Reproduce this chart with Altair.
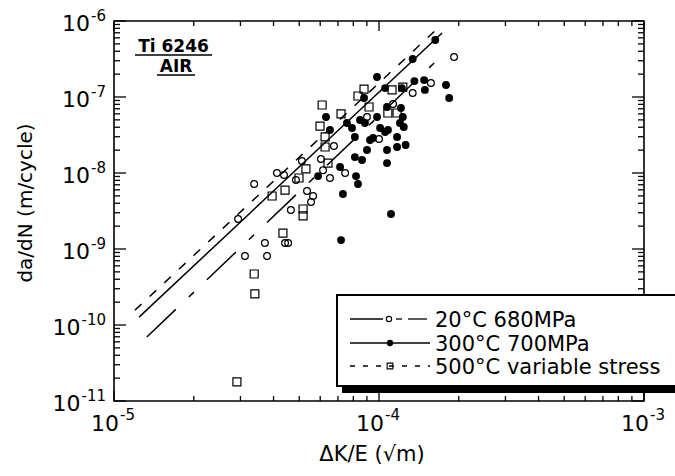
import altair as alt
import pandas as pd

# ---------------- data ----------------
# 20 C, 680 MPa (open circles)
c20_x = [2.94e-5, 3.38e-5, 4.12e-5, 4.38e-5, 4.86e-5, 5.12e-5, 6.04e-5, 6.53e-5, 6.15e-5, 6.76e-5,
         5.35e-5, 5.64e-5, 5.54e-5, 4.65e-5, 3.12e-5, 3.71e-5, 3.78e-5, 4.42e-5, 4.54e-5, 7.45e-5,
         9.01e-5, 1.0e-4, 1.13e-4, 1.34e-4, 1.57e-4, 1.92e-4]
c20_y = [2.48e-9, 7.17e-9, 1.0e-8, 9.4e-9, 8.1e-9, 1.44e-8, 1.53e-8, 8.6e-9, 1.09e-8, 2.27e-8,
         5.79e-9, 4.98e-9, 4.15e-9, 3.26e-9, 8.09e-10, 1.20e-9, 8.09e-10, 1.20e-9, 1.20e-9, 1.0e-8,
         5.46e-8, 2.80e-8, 8.09e-8, 1.13e-7, 1.53e-7, 3.36e-7]

# 300 C, 700 MPa (filled circles)
c300_x = [7.19e-5, 1.11e-4, 7.31e-5, 8.33e-5, 8.19e-5, 7.13e-5, 5.89e-5, 6.31e-5, 6.53e-5, 7.57e-5,
          7.91e-5, 8.48e-5, 8.85e-5, 9.83e-5, 9.83e-5, 1.054e-4, 8.78e-5, 1.34e-4, 1.63e-4, 1.36e-4,
          1.48e-4, 1.49e-4, 1.79e-4, 1.84e-4, 1.22e-4, 1.21e-4, 1.23e-4, 1.24e-4, 1.20e-4, 1.01e-4,
          1.054e-4, 1.081e-4, 8.11e-5, 9.25e-5, 9.49e-5, 1.17e-4, 1.26e-4, 1.17e-4, 9.01e-5, 1.072e-4,
          8.11e-5, 8.63e-5, 1.072e-4, 1.072e-4]
c300_y = [1.31e-9, 2.89e-9, 5.30e-9, 7.17e-9, 9.1e-9, 1.20e-8, 9.1e-9, 5.46e-8, 3.68e-8, 4.55e-8,
          3.91e-8, 4.98e-8, 4.55e-8, 5.46e-8, 1.83e-7, 1.31e-7, 9.7e-8, 3.16e-7, 5.62e-7, 1.62e-7,
          1.67e-7, 1.24e-7, 1.44e-7, 9.7e-8, 1.31e-7, 7.17e-8, 5.46e-8, 4.03e-8, 4.55e-8, 3.91e-8,
          3.46e-8, 3.68e-8, 2.98e-8, 2.72e-8, 2.89e-8, 2.98e-8, 2.34e-8, 2.20e-8, 2.01e-8, 2.01e-8,
          1.62e-8, 1.48e-8, 1.35e-8, 7.39e-8]

# 500 C, variable stress (open squares)
c500_x = [2.91e-5, 3.38e-5, 3.40e-5, 4.34e-5, 3.95e-5, 4.42e-5, 5.17e-5, 5.17e-5, 5.30e-5, 4.99e-5,
          6.10e-5, 5.99e-5, 6.26e-5, 6.26e-5, 6.42e-5, 7.19e-5, 8.33e-5, 8.78e-5, 9.17e-5, 1.08e-4,
          1.17e-4, 1.12e-4, 1.23e-4]
c500_y = [1.78e-11, 4.69e-10, 2.56e-10, 1.62e-9, 4.98e-9, 5.97e-9, 3.36e-9, 2.72e-9, 1.13e-8, 8.6e-9,
          7.85e-8, 4.15e-8, 2.98e-8, 2.20e-8, 1.35e-8, 5.98e-8, 1.03e-7, 1.27e-7, 7.39e-8, 6.16e-8,
          6.16e-8, 1.24e-7, 1.35e-7]

# fitted lines (end points)
fit20_x = [1.33e-5, 1.77e-4]
fit20_y = [6.95e-11, 3.79e-7]
fit300_x = [1.243e-5, 1.73e-4]
fit300_y = [1.27e-10, 6.95e-7]
fit500_x = [1.20e-5, 1.64e-4]
fit500_y = [1.57e-10, 7.62e-7]

series_labels = ["20°C 680MPa", "300°C 700MPa", "500°C variable stress"]

# axes ticks / labels
major_x = [1e-5, 1e-4, 1e-3]
minor_x = [2e-5, 3e-5, 4e-5, 5e-5, 6e-5, 7e-5, 8e-5, 9e-5,
           2e-4, 3e-4, 4e-4, 5e-4, 6e-4, 7e-4, 8e-4, 9e-4]
major_y = [1e-6, 1e-7, 1e-8, 1e-9, 1e-10, 1e-11]
minor_y = [2e-7, 3e-7, 4e-7, 5e-7, 6e-7, 7e-7, 8e-7, 9e-7,
           2e-8, 3e-8, 4e-8, 5e-8, 6e-8, 7e-8, 8e-8, 9e-8,
           2e-9, 3e-9, 4e-9, 5e-9, 6e-9, 7e-9, 8e-9, 9e-9,
           2e-10, 3e-10, 4e-10, 5e-10, 6e-10, 7e-10, 8e-10, 9e-10,
           2e-11, 3e-11, 4e-11, 5e-11, 6e-11, 7e-11, 8e-11, 9e-11]
x_label_vals = [1e-5, 1e-4, 1e-3]
x_label_exps = ["-5", "-4", "-3"]
y_label_vals = [1e-6, 1e-7, 1e-8, 1e-9, 1e-10, 1e-11]
y_label_exps = ["-6", "-7", "-8", "-9", "-10", "-11"]
label_base = "10"

x_title = "ΔK/E (√m)"
y_title = "da/dN (m/cycle)"
note_1 = "Ti 6246"
note_2 = "AIR"

# ---------------- chart ----------------
W, H = 530, 380
FONT = "DejaVu Sans"
XS = alt.Scale(type="log", domain=[1e-5, 1e-3], nice=False)
YS = alt.Scale(type="log", domain=[1e-11, 1e-6], nice=False)
X = alt.X("x:Q", scale=XS, axis=None)
Y = alt.Y("y:Q", scale=YS, axis=None)
one = pd.DataFrame({"k": [0]})


def df(xs, ys):
    return pd.DataFrame({"x": xs, "y": ys})


layers = []

# fitted lines
layers.append(alt.Chart(df(fit20_x, fit20_y)).mark_line(
    color="black", strokeWidth=1.5, strokeDash=[40, 18, 7, 18]).encode(x=X, y=Y))
layers.append(alt.Chart(df(fit300_x, fit300_y)).mark_line(
    color="black", strokeWidth=1.5).encode(x=X, y=Y))
layers.append(alt.Chart(df(fit500_x, fit500_y)).mark_line(
    color="black", strokeWidth=1.5, strokeDash=[9, 11]).encode(x=X, y=Y))

# points
layers.append(alt.Chart(df(c500_x, c500_y)).mark_point(
    shape="square", filled=False, color="black", strokeWidth=1.2, size=64, opacity=1).encode(x=X, y=Y))
layers.append(alt.Chart(df(c20_x, c20_y)).mark_point(
    shape="circle", filled=False, color="black", strokeWidth=1.2, size=46, opacity=1).encode(x=X, y=Y))
layers.append(alt.Chart(df(c300_x, c300_y)).mark_circle(
    color="black", size=62, opacity=1).encode(x=X, y=Y))

# frame
layers.append(alt.Chart(one).mark_rect(filled=False, stroke="black", strokeWidth=1.6).encode(
    x=alt.value(0), x2=alt.value(W), y=alt.value(0), y2=alt.value(H)))

# ticks (inward, all four sides)
def xticks(vals, ln):
    d = pd.DataFrame({"v": vals})
    xe = alt.X("v:Q", scale=XS, axis=None)
    b = alt.Chart(d).mark_rule(color="black", strokeWidth=1.3).encode(
        x=xe, y=alt.value(H), y2=alt.value(H - ln))
    t = alt.Chart(d).mark_rule(color="black", strokeWidth=1.3).encode(
        x=xe, y=alt.value(0), y2=alt.value(ln))
    return [b, t]


def yticks(vals, ln):
    d = pd.DataFrame({"v": vals})
    ye = alt.Y("v:Q", scale=YS, axis=None)
    l = alt.Chart(d).mark_rule(color="black", strokeWidth=1.3).encode(
        y=ye, x=alt.value(0), x2=alt.value(ln))
    r = alt.Chart(d).mark_rule(color="black", strokeWidth=1.3).encode(
        y=ye, x=alt.value(W), x2=alt.value(W - ln))
    return [l, r]


layers += xticks(major_x, 10) + xticks(minor_x, 5)
layers += yticks(major_y, 12) + yticks(minor_y, 6)

# y tick labels: "10" + superscript exponent
ylab = pd.DataFrame({"v": y_label_vals, "e": y_label_exps})
for sub, base_x in [(ylab[ylab["e"].str.len() == 2], -24), (ylab[ylab["e"].str.len() == 3], -33.5)]:
    ye = alt.Y("v:Q", scale=YS, axis=None)
    layers.append(alt.Chart(sub).mark_text(
        text=label_base, align="right", baseline="alphabetic", dy=9.5,
        fontSize=22, font=FONT, color="black").encode(y=ye, x=alt.value(base_x)))
    layers.append(alt.Chart(sub).mark_text(
        align="right", baseline="alphabetic", dy=0, fontSize=15, font=FONT,
        color="black").encode(y=ye, x=alt.value(-8), text="e:N"))

# x tick labels
xlab = pd.DataFrame({"v": x_label_vals, "e": x_label_exps})
xe = alt.X("v:Q", scale=XS, axis=None)
layers.append(alt.Chart(xlab).mark_text(
    text=label_base, align="right", baseline="alphabetic", dx=5,
    fontSize=22, font=FONT, color="black").encode(x=xe, y=alt.value(410)))
layers.append(alt.Chart(xlab).mark_text(
    align="left", baseline="alphabetic", dx=6, fontSize=15, font=FONT,
    color="black").encode(x=xe, y=alt.value(399), text="e:N"))

# axis titles
layers.append(alt.Chart(one).mark_text(
    text=x_title, align="center", baseline="alphabetic", fontSize=21, font=FONT,
    color="black").encode(x=alt.value(258), y=alt.value(440)))
layers.append(alt.Chart(one).mark_text(
    text=y_title, align="center", baseline="alphabetic", angle=270, fontSize=20, font=FONT,
    color="black").encode(x=alt.value(-82), y=alt.value(182)))

# inset note
layers.append(alt.Chart(one).mark_text(
    text=note_1, align="center", baseline="alphabetic", fontSize=17, fontWeight="bold",
    font=FONT, color="black").encode(x=alt.value(59.5), y=alt.value(31)))
layers.append(alt.Chart(one).mark_rule(color="black", strokeWidth=1.5).encode(
    x=alt.value(21), x2=alt.value(98), y=alt.value(34)))
layers.append(alt.Chart(one).mark_text(
    text=note_2, align="center", baseline="alphabetic", fontSize=17, fontWeight="bold",
    font=FONT, color="black").encode(x=alt.value(62), y=alt.value(51)))
layers.append(alt.Chart(one).mark_rule(color="black", strokeWidth=1.5).encode(
    x=alt.value(43), x2=alt.value(81), y=alt.value(54)))

# legend box with shadow
layers.append(alt.Chart(one).mark_rect(fill="black").encode(
    x=alt.value(228), x2=alt.value(580), y=alt.value(280), y2=alt.value(372)))
layers.append(alt.Chart(one).mark_rect(fill="white", stroke="black", strokeWidth=2).encode(
    x=alt.value(223), x2=alt.value(575), y=alt.value(274), y2=alt.value(365)))

rows = [298, 322, 345]
# row 1: 20C
layers.append(alt.Chart(one).mark_rule(color="black", strokeWidth=1.3).encode(
    x=alt.value(236), x2=alt.value(269), y=alt.value(rows[0])))
layers.append(alt.Chart(one).mark_point(shape="circle", filled=False, color="black",
                                        size=28, strokeWidth=1.1, opacity=1).encode(
    x=alt.value(275), y=alt.value(rows[0])))
layers.append(alt.Chart(one).mark_rule(color="black", strokeWidth=1.3).encode(
    x=alt.value(282), x2=alt.value(288), y=alt.value(rows[0])))
layers.append(alt.Chart(one).mark_rule(color="black", strokeWidth=1.3).encode(
    x=alt.value(294), x2=alt.value(313), y=alt.value(rows[0])))
# row 2: 300C
layers.append(alt.Chart(one).mark_rule(color="black", strokeWidth=1.3).encode(
    x=alt.value(236), x2=alt.value(316), y=alt.value(rows[1])))
layers.append(alt.Chart(one).mark_circle(color="black", size=40, opacity=1).encode(
    x=alt.value(276), y=alt.value(rows[1])))
# row 3: 500C
layers.append(alt.Chart(one).mark_rule(color="black", strokeWidth=1.3, strokeDash=[5, 8]).encode(
    x=alt.value(236), x2=alt.value(316), y=alt.value(rows[2])))
layers.append(alt.Chart(one).mark_point(shape="square", filled=False, color="black",
                                        size=32, strokeWidth=1.1, opacity=1).encode(
    x=alt.value(276), y=alt.value(rows[2])))

leg = pd.DataFrame({"label": series_labels, "row": [0, 1, 2]})
for i, lab in enumerate(series_labels):
    layers.append(alt.Chart(leg[leg["row"] == i]).mark_text(
        align="left", baseline="alphabetic", fontSize=21, font=FONT, color="black").encode(
        x=alt.value(321), y=alt.value(rows[i] + 7.5), text="label:N"))

chart = alt.layer(*layers).properties(
    width=W, height=H,
    padding={"left": 114, "top": 21, "right": 31, "bottom": 75},
    autosize=alt.AutoSizeParams(type="none"),
).configure_view(stroke=None)

chart.save("out.html", embed_options={"renderer": "svg", "actions": False})
